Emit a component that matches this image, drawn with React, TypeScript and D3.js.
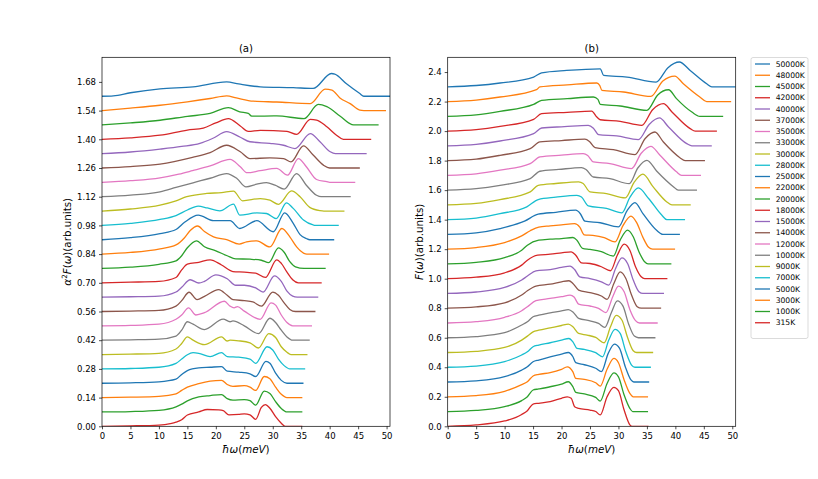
import React, { useEffect, useRef } from 'react';
import * as d3 from 'd3';

type Pt = [number, number];

// temperatures from the bottom curve to the top curve
const temps = ['315K', '1000K', '3000K', '5000K', '7000K', '9000K', '10000K', '12000K',
  '14000K', '15000K', '18000K', '20000K', '22000K', '25000K', '28000K', '30000K',
  '33000K', '35000K', '37000K', '40000K', '42000K', '45000K', '48000K', '50000K'];

const xTicks = [0, 5, 10, 15, 20, 25, 30, 35, 40, 45, 50];
const a2FTicks = [0, 0.14, 0.28, 0.42, 0.56, 0.7, 0.84, 0.98, 1.12, 1.26, 1.4, 1.54, 1.68];
const FTicks = [0, 0.2, 0.4, 0.6, 0.8, 1.0, 1.2, 1.4, 1.6, 1.8, 2.0, 2.2, 2.4];

// (a) alpha^2 F(omega), values above each curve's own baseline
const a2F_315K: Pt[] = [[0,0],[5,0.002],[10,0.006],[12,0.013],[13,0.02],[14,0.032],[15,0.055],[17,0.07],[18.5,0.082],[20.5,0.08],[21.3,0.076],[22.3,0.056],[24,0.058],[25,0.061],[26,0.056],[27,0.034],[28,0.092],[28.7,0.106],[29.5,0.088],[30.5,0.047],[31.5,0.015],[32.2,0],[35.2,0]];
const a2F_1000K: Pt[] = [[0,0],[5,0.002],[10,0.008],[13,0.025],[14,0.038],[15,0.054],[17,0.073],[19,0.08],[21,0.085],[22,0.065],[23,0.058],[25,0.06],[26,0.055],[27,0.033],[28.5,0.102],[29.5,0.09],[30.5,0.05],[31.5,0.017],[32.5,0],[35.2,0]];
const a2F_3000K: Pt[] = [[0,0],[5,0.002],[10,0.006],[13,0.018],[14,0.035],[15,0.051],[17,0.068],[19,0.08],[21,0.084],[22,0.064],[23,0.055],[25,0.058],[26,0.051],[27,0.035],[28.5,0.103],[29.5,0.092],[30.5,0.051],[31.5,0.016],[32.5,0],[35.2,0]];
const a2F_5000K: Pt[] = [[0,0],[5,0.002],[10,0.007],[13,0.02],[14,0.043],[15,0.062],[17,0.075],[19,0.078],[21,0.081],[22,0.059],[24,0.054],[26,0.046],[27,0.033],[28.8,0.107],[29.5,0.098],[30.5,0.049],[31.5,0.014],[32.5,0],[35.4,0]];
const a2F_7000K: Pt[] = [[0,0],[5,0.002],[10,0.008],[13,0.027],[14,0.048],[15,0.069],[16,0.079],[17,0.076],[19,0.06],[21,0.079],[22,0.06],[24,0.057],[26,0.048],[27,0.027],[29,0.108],[30,0.092],[31,0.048],[32,0.016],[33,0],[35.7,0]];
const a2F_9000K: Pt[] = [[0,0],[5,0.002],[10,0.006],[13,0.027],[14,0.054],[15,0.086],[16,0.07],[18,0.048],[21,0.086],[22,0.066],[22.5,0.07],[24,0.067],[26,0.057],[27.5,0.032],[29.3,0.102],[30.5,0.083],[31.5,0.038],[32.5,0.011],[33.2,0],[36.1,0]];
const a2F_10000K: Pt[] = [[0,0],[5,0.002],[10,0.005],[13,0.02],[14,0.049],[15,0.09],[16,0.078],[18,0.052],[21.3,0.103],[22.5,0.09],[23,0.094],[25,0.07],[27.5,0.032],[29.5,0.107],[30.5,0.086],[31.5,0.049],[32.5,0.016],[33.5,0],[36.5,0]];
const a2F_12000K: Pt[] = [[0,0],[5,0.002],[10,0.008],[13,0.032],[14,0.053],[15.2,0.088],[16.5,0.053],[18,0.064],[21.5,0.12],[22.5,0.096],[23.2,0.088],[23.8,0.094],[25,0.072],[27.8,0.032],[29.7,0.112],[30.5,0.101],[31.5,0.053],[32.5,0.016],[33.5,0],[36.9,0]];
const a2F_14000K: Pt[] = [[0,0],[5,0.002],[10,0.005],[13,0.026],[14,0.053],[15.3,0.094],[16.7,0.058],[18,0.074],[20.5,0.107],[22,0.079],[23,0.058],[25,0.053],[26.5,0.047],[28,0.026],[30,0.095],[31,0.079],[32,0.042],[33,0.01],[34,0],[37.5,0]];
const a2F_15000K: Pt[] = [[0,0],[5,0.002],[10,0.005],[13,0.025],[14,0.048],[15.5,0.085],[17,0.069],[18,0.077],[20,0.109],[22,0.09],[23.5,0.058],[25,0.058],[27,0.045],[28.3,0.025],[30.3,0.104],[31.5,0.077],[32.5,0.029],[33.5,0.005],[34.3,0],[38,0]];
const a2F_18000K: Pt[] = [[0,0],[5,0.003],[10,0.007],[13,0.026],[14,0.063],[15,0.091],[17,0.1],[19,0.112],[21,0.087],[23,0.055],[25,0.052],[27,0.047],[28.7,0.026],[30.7,0.112],[31.5,0.095],[32.5,0.052],[33.5,0.015],[34.5,0],[38.6,0]];
const a2F_20000K: Pt[] = [[0,0],[5,0.006],[10,0.02],[13,0.037],[14,0.062],[15,0.101],[16.6,0.135],[18,0.106],[20,0.086],[22,0.062],[23.5,0.047],[26,0.045],[28,0.04],[29.3,0.028],[31,0.1],[32,0.079],[33,0.033],[34,0.008],[35.5,0],[39.3,0]];
const a2F_22000K: Pt[] = [[0,0],[5,0.008],[10.2,0.026],[13,0.045],[14.5,0.08],[15.5,0.115],[16.8,0.137],[18,0.11],[19.6,0.084],[21.9,0.071],[24.1,0.049],[25.4,0.06],[27.2,0.065],[29.5,0.035],[31.6,0.125],[33,0.084],[34.2,0.035],[35.4,0.005],[36,0],[39.9,0]];
const a2F_25000K: Pt[] = [[0,0],[5,0.01],[10.2,0.03],[13,0.05],[14.5,0.085],[16.9,0.12],[19.6,0.093],[22.5,0.093],[24.2,0.055],[27.2,0.093],[30.1,0.039],[32.1,0.131],[33.6,0.08],[34.8,0.025],[35.9,0.006],[36.5,0],[40.8,0]];
const a2F_28000K: Pt[] = [[0,0],[5,0.01],[10.2,0.029],[13,0.048],[15,0.075],[16.9,0.094],[18.5,0.085],[20.7,0.071],[23.1,0.104],[24.2,0.05],[27.2,0.061],[28.9,0.058],[30.6,0.033],[32.4,0.11],[33.6,0.083],[35.4,0.026],[37.1,0.002],[37.5,0],[41.6,0]];
const a2F_30000K: Pt[] = [[0,0],[5,0.01],[10.2,0.029],[13,0.05],[14.9,0.07],[18.4,0.086],[21,0.09],[23.1,0.097],[24.7,0.05],[27.8,0.061],[29.5,0.053],[31,0.033],[33.3,0.098],[34.8,0.07],[36.5,0.018],[38.3,0.002],[39,0],[42.6,0]];
const a2F_33000K: Pt[] = [[0,0],[5,0.008],[10.2,0.024],[13,0.045],[16,0.068],[19,0.09],[21.9,0.113],[23.7,0.089],[25.3,0.048],[27.2,0.061],[28.9,0.069],[30.4,0.056],[32,0.037],[34.2,0.113],[35.9,0.056],[37.7,0.007],[38.5,0],[43.7,0]];
const a2F_35000K: Pt[] = [[0,0],[5,0.008],[10.2,0.022],[13.5,0.04],[15.9,0.057],[19,0.08],[22.5,0.112],[24.3,0.076],[25.5,0.047],[27.8,0.057],[30.7,0.068],[32.6,0.035],[34.5,0.116],[35.9,0.076],[37.7,0.014],[39.5,0.003],[40,0],[44.5,0]];
const a2F_37000K: Pt[] = [[0,0],[5,0.007],[10.2,0.019],[15.9,0.052],[19,0.075],[21.9,0.111],[24.3,0.079],[26,0.046],[29.5,0.049],[31.9,0.046],[33.2,0.03],[35.4,0.108],[37.1,0.063],[38.9,0.014],[40,0],[45.3,0]];
const a2F_40000K: Pt[] = [[0,0],[5,0.008],[10.2,0.022],[14,0.035],[17.2,0.05],[19.5,0.075],[21.9,0.107],[24.3,0.08],[26,0.058],[29.5,0.05],[31.9,0.041],[33.9,0.025],[36.6,0.098],[38.3,0.058],[40.1,0.009],[41,0],[46.5,0]];
const a2F_42000K: Pt[] = [[0,0],[5,0.007],[10.2,0.02],[15,0.045],[17.8,0.055],[20,0.08],[22.2,0.101],[24.3,0.065],[25.7,0.039],[27.8,0.044],[32.5,0.039],[34.2,0.024],[36.6,0.097],[37.7,0.094],[39.5,0.061],[41.2,0.02],[42.4,0],[47.3,0]];
const a2F_45000K: Pt[] = [[0,0],[5,0.01],[10.2,0.023],[15,0.042],[19,0.056],[22.2,0.085],[24.2,0.064],[25.7,0.056],[26.3,0.043],[30.7,0.044],[35.5,0.031],[38,0.1],[39.5,0.089],[41.8,0.044],[43.9,0.002],[44.5,0],[48.6,0]];
const a2F_48000K: Pt[] = [[0,0],[5,0.012],[10.2,0.026],[15,0.043],[19,0.059],[21.9,0.072],[23.6,0.062],[26.6,0.046],[30.7,0.042],[36.6,0.034],[39.2,0.105],[40.4,0.1],[41.8,0.062],[43.6,0.034],[45.3,0.002],[46,0],[49.9,0]];
const a2F_50000K: Pt[] = [[0,0],[2,0.002],[5,0.017],[10.2,0.036],[16,0.046],[21.9,0.07],[24,0.06],[27.8,0.046],[33.6,0.042],[37.1,0.038],[40.3,0.111],[40.9,0.108],[42.9,0.062],[45.3,0.013],[46,0],[50.6,0]];

// (b) F(omega), values above each curve's own baseline
const F_315K: Pt[] = [[0,0],[5,0.009],[10,0.036],[12,0.06],[13,0.08],[14,0.106],[15,0.151],[16,0.156],[18,0.167],[20,0.19],[21,0.2],[21.7,0.19],[22.3,0.133],[23,0.122],[25,0.11],[26,0.1],[26.8,0.077],[28,0.2],[29.2,0.264],[30,0.241],[31,0.11],[32,0.01],[32.4,0],[35.3,0]];
const F_1000K: Pt[] = [[0,0],[5,0.008],[10,0.033],[13,0.074],[14,0.1],[15,0.146],[16,0.153],[18,0.168],[20,0.186],[21.2,0.202],[22,0.168],[22.5,0.13],[24,0.119],[26,0.096],[26.8,0.071],[28,0.19],[29.2,0.262],[30,0.235],[31,0.112],[32,0.022],[32.5,0],[35.2,0]];
const F_3000K: Pt[] = [[0,0],[5,0.008],[10,0.037],[13,0.082],[14,0.102],[15,0.141],[16,0.152],[18,0.163],[20,0.186],[21,0.203],[22,0.169],[22.5,0.124],[24,0.118],[26,0.095],[26.8,0.072],[28,0.186],[29.2,0.26],[30,0.231],[31,0.114],[32,0.023],[32.6,0],[35.2,0]];
const F_5000K: Pt[] = [[0,0],[5,0.008],[10,0.036],[13,0.081],[14,0.104],[15,0.137],[16,0.149],[18,0.171],[20,0.189],[21.2,0.2],[22,0.171],[22.5,0.131],[24,0.117],[26,0.093],[27,0.07],[28.2,0.194],[29.3,0.257],[30.2,0.228],[31.2,0.104],[32.2,0.014],[32.7,0],[35.4,0]];
const F_7000K: Pt[] = [[0,0],[5,0.008],[10,0.038],[13,0.083],[14,0.105],[15,0.139],[16,0.15],[18,0.166],[20,0.184],[21.3,0.195],[22,0.172],[22.7,0.128],[24,0.121],[26,0.099],[27.2,0.071],[28.3,0.184],[29.4,0.256],[30.3,0.229],[31.3,0.105],[32.3,0.015],[32.9,0],[35.7,0]];
const F_9000K: Pt[] = [[0,0],[5,0.008],[10,0.034],[13,0.084],[14,0.111],[15,0.14],[16,0.151],[18,0.167],[20,0.183],[21.2,0.192],[22,0.174],[23,0.129],[24.5,0.118],[26,0.102],[27.5,0.066],[28.6,0.174],[29.6,0.251],[30.6,0.22],[31.6,0.102],[32.6,0.012],[33.2,0],[36.1,0]];
const F_10000K: Pt[] = [[0,0],[5,0.008],[10,0.034],[13,0.086],[14,0.108],[15,0.142],[16,0.153],[18,0.169],[20,0.182],[21.2,0.191],[22,0.175],[23,0.131],[25,0.115],[26.5,0.097],[27.6,0.07],[28.8,0.175],[29.8,0.25],[30.8,0.214],[31.8,0.092],[32.8,0.011],[33.5,0],[36.5,0]];
const F_12000K: Pt[] = [[0,0],[5,0.009],[10,0.038],[13,0.083],[14,0.11],[15.5,0.151],[18,0.166],[20,0.178],[21.5,0.189],[22.2,0.176],[23,0.128],[25,0.115],[26.5,0.099],[27.8,0.07],[29,0.178],[30,0.25],[31,0.211],[32,0.092],[33,0.016],[33.7,0],[36.9,0]];
const F_14000K: Pt[] = [[0,0],[5,0.009],[10,0.037],[13,0.089],[14,0.118],[15.5,0.15],[18,0.163],[20,0.179],[21.3,0.186],[22,0.168],[23,0.123],[25,0.105],[27,0.083],[28,0.06],[29.2,0.168],[30.3,0.246],[31.3,0.201],[32.3,0.089],[33.3,0.01],[34,0],[37.5,0]];
const F_15000K: Pt[] = [[0,0],[5,0.01],[10,0.041],[13,0.091],[14,0.118],[15.5,0.153],[18,0.162],[20,0.176],[21.5,0.185],[22.3,0.162],[23.2,0.113],[25,0.101],[27,0.079],[28.3,0.057],[29.5,0.169],[30.6,0.241],[31.6,0.203],[32.6,0.091],[33.6,0.012],[34.3,0],[38,0]];
const F_18000K: Pt[] = [[0,0],[5,0.01],[10,0.04],[13,0.092],[14,0.125],[15.8,0.159],[18,0.166],[20,0.175],[21.7,0.182],[22.5,0.159],[23.5,0.107],[25,0.103],[27,0.081],[28.6,0.054],[29.8,0.159],[31,0.234],[32,0.193],[33,0.081],[34,0.013],[34.6,0],[38.6,0]];
const F_20000K: Pt[] = [[0,0],[5,0.011],[10,0.043],[13,0.093],[14,0.127],[16,0.161],[18,0.168],[20,0.172],[22,0.179],[22.7,0.161],[23.7,0.105],[25,0.098],[27,0.083],[29.1,0.053],[30.3,0.161],[31.6,0.229],[32.6,0.184],[33.6,0.083],[34.6,0.015],[35.2,0],[39.3,0]];
const F_22000K: Pt[] = [[0,0],[5,0.011],[10,0.045],[13,0.09],[14.5,0.125],[16,0.15],[18,0.158],[20,0.165],[22.3,0.173],[23.2,0.15],[24,0.097],[25.5,0.093],[27.5,0.078],[29.4,0.05],[30.8,0.16],[32.2,0.224],[33.2,0.18],[34.3,0.08],[35.3,0.013],[36,0],[39.95,0]];
const F_25000K: Pt[] = [[0,0],[5,0.011],[9.2,0.04],[13.5,0.09],[15.9,0.137],[19,0.15],[22.5,0.164],[23.3,0.14],[24.1,0.09],[26.8,0.079],[30,0.051],[31.5,0.16],[32.9,0.216],[34.3,0.141],[36.7,0.028],[37.8,0],[40.8,0]];
const F_28000K: Pt[] = [[0,0],[5,0.011],[9.2,0.041],[13.9,0.087],[15.9,0.136],[19,0.152],[22.7,0.165],[23.5,0.154],[24.7,0.094],[27.9,0.076],[30.6,0.046],[32,0.15],[33.5,0.215],[35.3,0.143],[37.6,0.031],[38.5,0],[41.7,0]];
const F_30000K: Pt[] = [[0,0],[5,0.01],[9.2,0.036],[14.5,0.088],[15.9,0.133],[19,0.145],[23,0.156],[23.8,0.145],[25,0.088],[27.9,0.076],[31.2,0.047],[32.7,0.15],[34.3,0.208],[36.1,0.122],[38.5,0.02],[39.4,0],[42.7,0]];
const F_33000K: Pt[] = [[0,0],[5,0.01],[9.2,0.033],[14.5,0.078],[16.2,0.128],[19.5,0.14],[23.5,0.153],[24.3,0.14],[25.6,0.089],[28.5,0.078],[31.9,0.044],[33.4,0.15],[35,0.202],[36.7,0.13],[39.7,0.022],[40.5,0],[43.8,0]];
const F_35000K: Pt[] = [[0,0],[5,0.01],[9.2,0.035],[14.5,0.08],[16.2,0.125],[20,0.137],[23.8,0.147],[24.6,0.135],[25.6,0.091],[28.5,0.08],[32.3,0.046],[34,0.15],[35.7,0.197],[37.3,0.136],[40.2,0.024],[41.1,0],[44.5,0]];
const F_37000K: Pt[] = [[0,0],[5,0.01],[9.2,0.036],[14.5,0.081],[16.2,0.127],[20,0.136],[24.1,0.145],[24.9,0.13],[25.9,0.088],[29.1,0.074],[32.9,0.041],[34.7,0.15],[36.4,0.194],[37.9,0.126],[40.8,0.02],[41.7,0],[45.2,0]];
const F_40000K: Pt[] = [[0,0],[5,0.01],[9.2,0.033],[15.1,0.083],[16.5,0.121],[20.5,0.13],[24.7,0.139],[25.6,0.12],[26.5,0.076],[29.7,0.067],[33.5,0.042],[35.4,0.145],[37.2,0.189],[38.8,0.128],[42,0.015],[42.9,0],[46.4,0]];
const F_42000K: Pt[] = [[0,0],[5,0.01],[9.2,0.032],[15.1,0.08],[16.5,0.118],[21,0.127],[25.3,0.136],[26.2,0.095],[26.8,0.077],[30.3,0.066],[34.1,0.039],[36,0.145],[37.9,0.186],[39.4,0.13],[42.6,0.017],[43.5,0],[47.3,0]];
const F_45000K: Pt[] = [[0,0],[5,0.01],[9.2,0.034],[15.1,0.081],[16.5,0.108],[21,0.12],[25.6,0.131],[26.4,0.115],[26.8,0.081],[30.3,0.07],[35,0.041],[36.9,0.145],[38.8,0.18],[40.2,0.12],[42.9,0.029],[44.3,0],[48.4,0]];
const F_48000K: Pt[] = [[0,0],[5,0.01],[9.2,0.031],[15.6,0.081],[16.2,0.099],[21,0.113],[26.2,0.126],[26.7,0.11],[27.1,0.076],[30.9,0.065],[35.7,0.035],[37.8,0.14],[39.9,0.173],[41.4,0.121],[44.3,0.031],[45.5,0],[49.8,0]];
const F_50000K: Pt[] = [[0,0],[5,0.009],[9.2,0.026],[15.1,0.066],[16.5,0.095],[20.9,0.111],[26.8,0.122],[27.4,0.077],[31.5,0.066],[36.6,0.032],[38.7,0.13],[40.7,0.168],[42.6,0.111],[45.5,0.021],[46.4,0],[50.6,0]];

const a2FCurves = [a2F_315K, a2F_1000K, a2F_3000K, a2F_5000K, a2F_7000K, a2F_9000K, a2F_10000K, a2F_12000K,
  a2F_14000K, a2F_15000K, a2F_18000K, a2F_20000K, a2F_22000K, a2F_25000K, a2F_28000K, a2F_30000K,
  a2F_33000K, a2F_35000K, a2F_37000K, a2F_40000K, a2F_42000K, a2F_45000K, a2F_48000K, a2F_50000K];
const FCurves = [F_315K, F_1000K, F_3000K, F_5000K, F_7000K, F_9000K, F_10000K, F_12000K,
  F_14000K, F_15000K, F_18000K, F_20000K, F_22000K, F_25000K, F_28000K, F_30000K,
  F_33000K, F_35000K, F_37000K, F_40000K, F_42000K, F_45000K, F_48000K, F_50000K];

const W = 818, H = 479;
const top = 57.3, bottom = 426.3;
const FONT = 'DejaVu Sans, sans-serif';

type Part = [string, 'i' | 'n' | 'sup'];

function addMath(t: d3.Selection<SVGTextElement, unknown, null, undefined>, parts: Part[]) {
  let raised = false;
  parts.forEach(([s, kind]) => {
    const ts = t.append('tspan').text(s);
    if (kind === 'i') ts.attr('font-style', 'italic');
    if (kind === 'sup') {
      ts.attr('font-size', 7.2).attr('dy', -4);
      raised = true;
    } else if (raised) {
      ts.attr('dy', 4);
      raised = false;
    }
  });
}

const App: React.FC = () => {
  const ref = useRef<SVGSVGElement>(null);

  useEffect(() => {
    if (!ref.current) return;
    const svg = d3.select(ref.current);
    svg.selectAll('*').remove();
    const colors = d3.schemeCategory10;
    const n = temps.length;

    const panels = [
      { left: 102, right: 390, yMax: 1.8, step: 0.07, curves: a2FCurves, ticks: a2FTicks, fmt: '.2f', title: '(a)',
        ylabX: 71, ylab: [['α', 'i'], ['2', 'sup'], ['F', 'i'], ['(', 'n'], ['ω', 'i'], [')', 'n'], ['(arb.units)', 'n']] as Part[] },
      { left: 447.7, right: 735.7, yMax: 2.5, step: 0.1, curves: FCurves, ticks: FTicks, fmt: '.1f', title: '(b)',
        ylabX: 422.5, ylab: [['F', 'i'], ['(', 'n'], ['ω', 'i'], [')', 'n'], ['(arb.units)', 'n']] as Part[] },
    ];

    panels.forEach((p, pi) => {
      const x = d3.scaleLinear().domain([0, 50.6]).range([p.left, p.right]);
      const y = d3.scaleLinear().domain([0, p.yMax]).range([bottom, top]);

      svg.append('clipPath').attr('id', `clip${pi}`)
        .append('rect')
        .attr('x', p.left).attr('y', top)
        .attr('width', p.right - p.left).attr('height', bottom - top);

      const line = d3.line<Pt>()
        .x(d => x(d[0]))
        .y(d => y(d[1]))
        .curve(d3.curveMonotoneX);

      const g = svg.append('g').attr('clip-path', `url(#clip${pi})`);
      for (let k = n - 1; k >= 0; k--) {
        const off = k * p.step;
        g.append('path')
          .datum(p.curves[k].map(d => [d[0], d[1] + off] as Pt))
          .attr('fill', 'none')
          .attr('stroke', colors[(n - 1 - k) % 10])
          .attr('stroke-width', 1.3)
          .attr('stroke-linejoin', 'round')
          .attr('d', line);
      }

      const xAxis = svg.append('g')
        .attr('transform', `translate(0,${bottom})`)
        .call(d3.axisBottom(x).tickValues(xTicks).tickSize(3).tickPadding(4).tickFormat(d3.format('d')));
      const yAxis = svg.append('g')
        .attr('transform', `translate(${p.left},0)`)
        .call(d3.axisLeft(y).tickValues(p.ticks).tickSize(3).tickPadding(3).tickFormat(d3.format(p.fmt)));
      [xAxis, yAxis].forEach(a => {
        a.select('.domain').remove();
        a.attr('font-family', FONT).attr('font-size', 8.5);
        a.selectAll('line').attr('stroke', '#000').attr('stroke-width', 0.7);
        a.selectAll('text').attr('fill', '#000');
      });

      svg.append('rect')
        .attr('x', p.left).attr('y', top)
        .attr('width', p.right - p.left).attr('height', bottom - top)
        .attr('fill', 'none').attr('stroke', '#000').attr('stroke-width', 0.7);

      const cx = (p.left + p.right) / 2;
      svg.append('text')
        .attr('x', cx).attr('y', 52)
        .attr('text-anchor', 'middle')
        .attr('font-family', FONT).attr('font-size', 10.2)
        .text(p.title);

      const xl = svg.append('text')
        .attr('x', cx).attr('y', 452.5)
        .attr('text-anchor', 'middle')
        .attr('font-family', FONT).attr('font-size', 10.3);
      addMath(xl, [['ħω', 'i'], ['(', 'n'], ['meV', 'i'], [')', 'n']]);

      const yl = svg.append('text')
        .attr('transform', `translate(${p.ylabX},${(top + bottom) / 2}) rotate(-90)`)
        .attr('text-anchor', 'middle')
        .attr('font-family', FONT).attr('font-size', 10.3);
      addMath(yl, p.ylab);
    });

    // legend, top entry first
    const lg = svg.append('g');
    lg.append('rect')
      .attr('x', 751).attr('y', 57.5).attr('width', 57).attr('height', 281)
      .attr('rx', 2)
      .attr('fill', '#fff').attr('fill-opacity', 0.8)
      .attr('stroke', '#ccc').attr('stroke-width', 0.7);
    const order = temps.slice().reverse();
    order.forEach((t, i) => {
      const ly = 64 + i * 11.25;
      lg.append('line')
        .attr('x1', 755).attr('x2', 770).attr('y1', ly).attr('y2', ly)
        .attr('stroke', colors[i % 10]).attr('stroke-width', 1.3);
      lg.append('text')
        .attr('x', 775.7).attr('y', ly + 2.7)
        .attr('font-family', FONT).attr('font-size', 7.6)
        .attr('fill', '#000')
        .text(t);
    });
  }, []);

  return (
    <div style={{ position: 'absolute', left: 0, top: 0 }}>
      <svg ref={ref} width={W} height={H} style={{ display: 'block', background: '#fff' }} />
    </div>
  );
};

export default App;
